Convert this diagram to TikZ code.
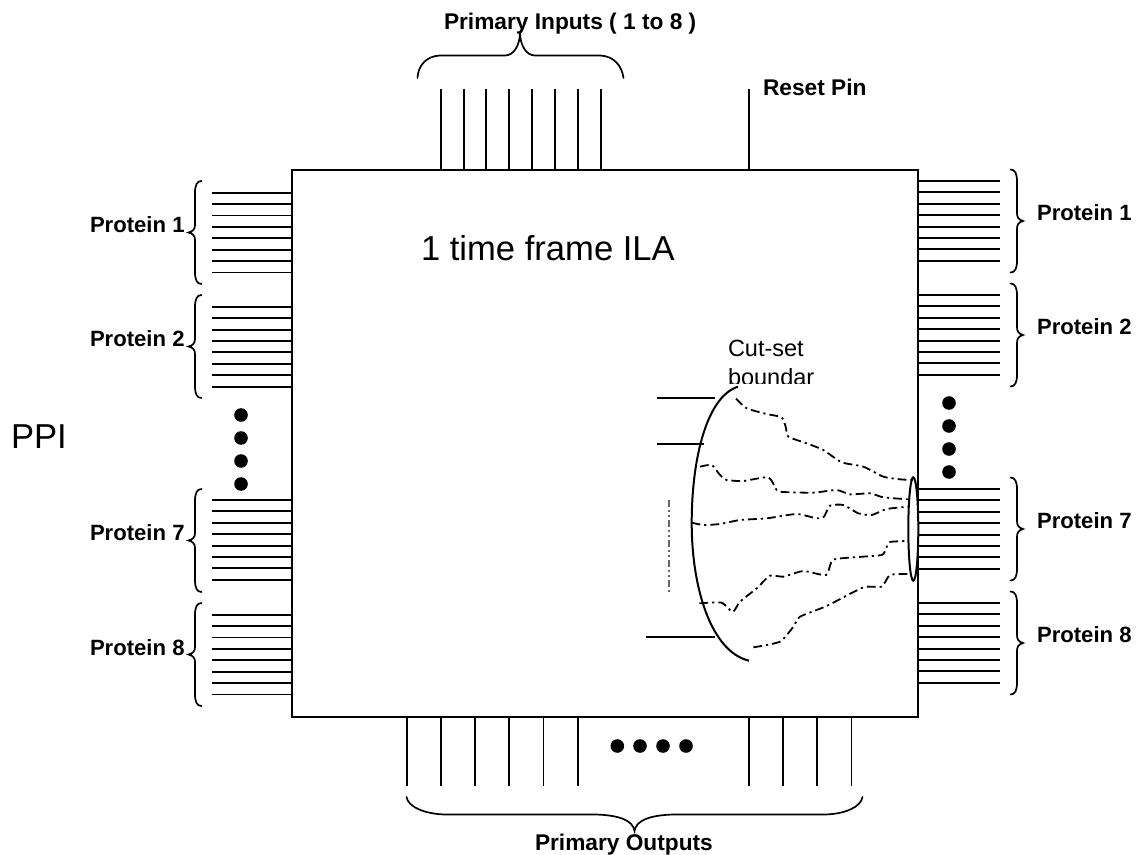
\documentclass[tikz,border=0pt]{standalone}
\usepackage{fontspec}
\setmainfont{Liberation Sans}
\usetikzlibrary{calc,shapes.geometric}
\tikzset{
  wire/.style={line width=0.95pt,black},
  bracecurve/.style={line width=0.85pt,black,line cap=round},
  lab/.style={font=\bfseries\fontsize{11.05}{13}\selectfont,anchor=base west,inner sep=0pt,outer sep=0pt,text=black},
  widelab/.style={font=\bfseries\fontsize{11.35}{13}\selectfont,anchor=base west,inner sep=0pt,outer sep=0pt,text=black},
  biglab/.style={font=\fontsize{17.3}{20}\selectfont,anchor=base west,inner sep=0pt,outer sep=0pt,text=black},
  smalllab/.style={font=\fontsize{11.75}{13}\selectfont,anchor=base west,inner sep=0pt,outer sep=0pt,text=black},
  blob/.style={circle,fill=black,inner sep=0pt,minimum size=6.8pt},
  cutpath/.style={line width=0.9pt,black,dash pattern=on 4.4pt off 2pt on 1.1pt off 2pt},
}
\begin{document}
\begin{tikzpicture}[x=0.5pt,y=-0.5pt]
\useasboundingbox (0,0) rectangle (1140,855);
\node[draw,line width=1pt,inner sep=0pt,outer sep=0pt,minimum width=313pt,minimum height=273.5pt] (chip) at (605,443.5) {};
% left wires and braces
\foreach \g in {192.7,306.8,500,614.7}
  \foreach \i in {0,...,7}
    \draw[wire] (212,{\g+\i*11.4}) -- (chip.west |- 0,{\g+\i*11.4});
\foreach \y in {181,295,489,603}
  \draw[bracecurve] (201.5,\y) .. controls (197,\y) and (195,\y+4) .. (195,\y+12) -- (195,\y+44)
    .. controls (195,\y+48) and (193,\y+50.5) .. (188.5,\y+51.5)
    .. controls (193,\y+52.5) and (195,\y+55) .. (195,\y+59) -- (195,\y+91)
    .. controls (195,\y+99) and (197,\y+103) .. (201.5,\y+103);
% right wires and braces
\foreach \g in {181,295,489,603}
  \foreach \i in {0,...,7}
    \draw[wire] (chip.east |- 0,{\g+\i*11.4}) -- (1000,{\g+\i*11.4});
\foreach \y in {169.5,283.5,477.5,591.5}
  \draw[bracecurve] (1010.5,\y) .. controls (1015,\y) and (1017,\y+4) .. (1017,\y+12) -- (1017,\y+44)
    .. controls (1017,\y+48) and (1019,\y+50.5) .. (1023,\y+51.5)
    .. controls (1019,\y+52.5) and (1017,\y+55) .. (1017,\y+59) -- (1017,\y+91)
    .. controls (1017,\y+99) and (1015,\y+103) .. (1010.5,\y+103);
% top wires and brace
\foreach \i in {0,...,7}
  \draw[wire] ({440.7+\i*22.85},89) -- ({440.7+\i*22.85},0 |- chip.north);
\coordinate (resettop) at (749,89);
\draw[wire] (resettop) -- (resettop |- chip.north);
\draw[bracecurve] (417.5,78) .. controls (418,66) and (426,56) .. (440,55.5) -- (505,55.5)
  .. controls (514,55.5) and (520,45) .. (520,32)
  .. controls (520,45) and (526,55.5) .. (535,55.5) -- (600,55.5)
  .. controls (614,56) and (622,66) .. (623.5,78);
% bottom wires and brace
\foreach \x in {406.7,440.8,475,509,543.5,577.6,749,783,817,851.5}
  \draw[wire] (\x,0 |- chip.south) -- (\x,786);
\draw[bracecurve] (406.5,797) .. controls (408,807) and (425,814) .. (445,814.5) -- (595,814.5)
  .. controls (618,815) and (633,820) .. (634.5,831)
  .. controls (636,820) and (651,815) .. (674,814.5) -- (825,814.5)
  .. controls (845,814) and (861,807) .. (862.5,797);
% dots
\foreach \n/\x in {a/617.3,b/640,c/663,d/686} \node[blob] (bot\n) at (\x,746) {};
\foreach \n/\y in {a/415,b/438,c/461,d/484} \node[blob] (lft\n) at (241,\y) {};
\foreach \n/\y in {a/403,b/426,c/449,d/472} \node[blob] (rgt\n) at (949,\y) {};
% labels
\node[widelab] (tin) at (444,30) {Primary Inputs ( 1 to 8 )};
\node[widelab] (rst) at (763,96) {Reset Pin};
\node[widelab] (tout) at (535,850) {Primary Outputs};
\foreach \n/\t/\y in {a/1/233,b/2/346.5,c/7/540,d/8/655}
  \node[lab] (lp\n) at (90,\y) {Protein \t};
\foreach \n/\t/\y in {a/1/220.7,b/2/334.5,c/7/528,d/8/642}
  \node[lab] (rp\n) at (1037,\y) {Protein \t};
\node[biglab] (ila) at (421,261) {1 time frame ILA};
\node[biglab] (ppi) at (11,448) {PPI};
\node[smalllab] (cut) at (728,357) {Cut-set};
\begin{scope}
  \clip (700,360) rectangle (830,383.5);
  \node[smalllab] (bnd) at (728,385.5) {boundar};
\end{scope}
% cut-set region
\coordinate (la) at (656.7,397.7);\coordinate (lb) at (715,397.7);
\coordinate (lc) at (656.7,443.7);\coordinate (ld) at (703.5,443.7);
\coordinate (le) at (645.5,637.3);\coordinate (lf) at (715,637.3);
\draw[wire] (la) -- (lb);
\draw[wire] (lc) -- (ld);
\draw[wire] (le) -- (lf);
\coordinate (va) at (669,500);\coordinate (vb) at (669,592.3);
\draw[line width=0.8pt,black!60,dash pattern=on 3.5pt off 1.5pt on 1pt off 1.5pt on 1pt off 1.5pt] (va) -- (vb);
\draw[line width=1pt] (738,386.7) .. controls (708,396) and (691.7,455) .. (691.7,523)
  .. controls (691.7,590) and (712,652) .. (749,660.7);
\node[draw,ellipse,fill=white,line width=1pt,inner sep=0pt,outer sep=0pt,minimum width=5pt,minimum height=51.7pt] (cutsmall) at (913.3,529) {};
\begin{scope}[shift={(640,340)},x=0.16667pt,y=-0.16667pt]
\draw[cutpath] plot[smooth,tension=0.35] coordinates {(288,176)(320,205)(380,222)(425,232)(437,260)(445,290)(500,310)(550,330)(605,367)(670,380)(730,410)(780,418)(820,420)};
\draw[cutpath] plot[smooth,tension=0.35] coordinates {(180,380)(215,375)(240,405)(260,420)(310,423)(385,412)(410,450)(430,456)(520,458)(590,450)(630,463)(690,460)(730,472)(805,478)};
\draw[cutpath] plot[smooth,tension=0.35] coordinates {(155,548)(190,555)(240,552)(300,540)(380,535)(470,522)(530,535)(552,530)(570,497)(610,495)(655,520)(695,525)(740,507)(805,500)};
\draw[cutpath] plot[smooth,tension=0.35] coordinates {(178,790)(245,788)(278,816)(300,785)(350,745)(390,707)(430,710)(490,693)(558,705)(578,660)(640,652)(725,645)(738,625)(750,606)(805,603)};
\draw[cutpath] plot[smooth,tension=0.35] coordinates {(340,922)(420,905)(460,860)(480,830)(560,798)(670,742)(725,740)(750,705)(805,702)};
\end{scope}
\end{tikzpicture}
\end{document}
